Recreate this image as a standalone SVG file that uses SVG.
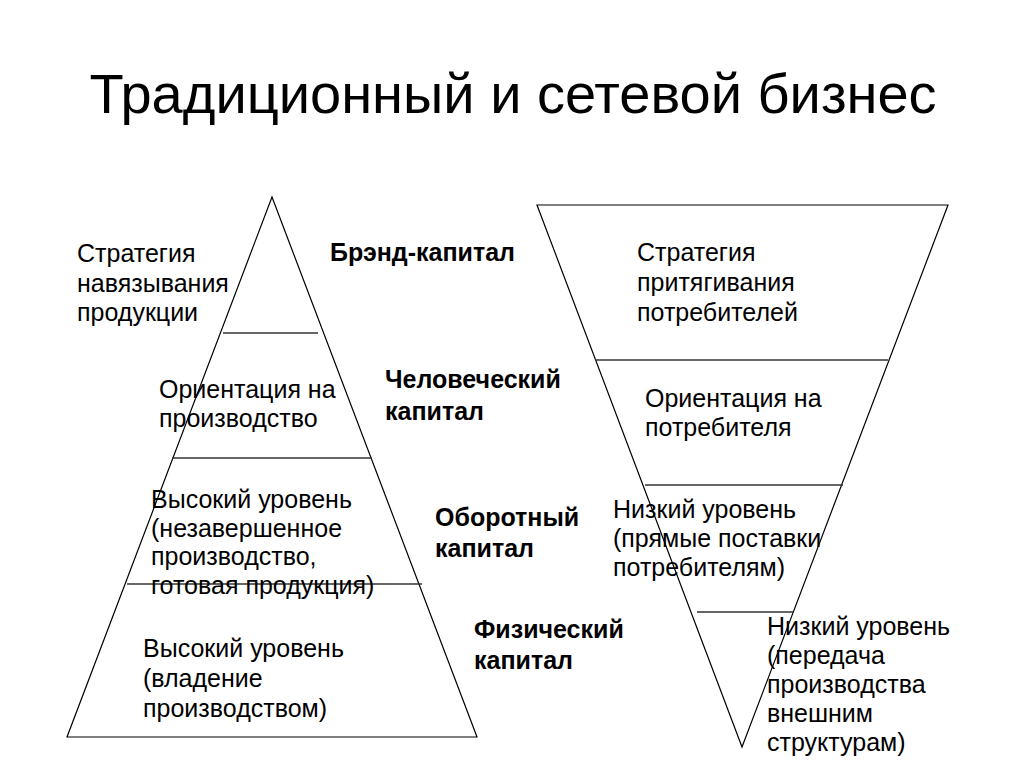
<svg xmlns="http://www.w3.org/2000/svg" width="1024" height="767" viewBox="0 0 1024 767">
<style>
.t{font-family:"Liberation Sans",Arial,sans-serif;font-size:25px;fill:#000}
.b{font-family:"Liberation Sans",Arial,sans-serif;font-size:25px;font-weight:bold;fill:#000}
.h{font-family:"Liberation Sans",Arial,sans-serif;font-size:56px;fill:#000}
.edge{fill:none;stroke:#000;stroke-width:1.2}
.div{stroke:#333;stroke-width:1.6}
</style>
<rect width="1024" height="767" fill="#fff"/>
<g id="title"><text class="h" x="513" y="113" text-anchor="middle">Традиционный и сетевой бизнес</text></g>
<g id="connectors">
<polygon class="edge" points="272,197 67,737 477,737"/>
<line class="div" x1="223" y1="333" x2="318" y2="333"/>
<line class="div" x1="172" y1="458" x2="372" y2="458"/>
<line class="div" x1="127" y1="584" x2="422" y2="584"/>
<polygon class="edge" points="537,205 948,205 742,747"/>
<line class="div" x1="595" y1="360" x2="888" y2="360"/>
<line class="div" x1="645" y1="485" x2="843" y2="485"/>
<line class="div" x1="697" y1="612" x2="793" y2="612"/>
</g>
<g id="left-1"><text class="t" x="77" y="262"><tspan x="77">Стратегия</tspan><tspan x="77" dy="29.5">навязывания</tspan><tspan x="77" dy="29.5">продукции</tspan></text></g>
<g id="left-2"><text class="t" x="159" y="398"><tspan x="159">Ориентация на</tspan><tspan x="159" dy="29">производство</tspan></text></g>
<g id="left-3"><text class="t" x="151" y="508"><tspan x="151">Высокий уровень</tspan><tspan x="151" dy="28.5">(незавершенное</tspan><tspan x="151" dy="28.5">производство,</tspan><tspan x="151" dy="28.5">готовая продукция)</tspan></text></g>
<g id="left-4"><text class="t" x="143" y="657"><tspan x="143">Высокий уровень</tspan><tspan x="143" dy="30">(владение</tspan><tspan x="143" dy="30">производством)</tspan></text></g>
<g id="cap-1"><text class="b" x="330" y="261">Брэнд-капитал</text></g>
<g id="cap-2"><text class="b" x="385" y="388"><tspan x="385">Человеческий</tspan><tspan x="385" dy="32">капитал</tspan></text></g>
<g id="cap-3"><text class="b" x="435" y="526"><tspan x="435">Оборотный</tspan><tspan x="435" dy="31">капитал</tspan></text></g>
<g id="cap-4"><text class="b" x="474" y="638"><tspan x="474">Физический</tspan><tspan x="474" dy="31">капитал</tspan></text></g>
<g id="right-1"><text class="t" x="637" y="261"><tspan x="637">Стратегия</tspan><tspan x="637" dy="30">притягивания</tspan><tspan x="637" dy="30">потребителей</tspan></text></g>
<g id="right-2"><text class="t" x="645" y="407"><tspan x="645">Ориентация на</tspan><tspan x="645" dy="28.5">потребителя</tspan></text></g>
<g id="right-3"><text class="t" x="613" y="518"><tspan x="613">Низкий уровень</tspan><tspan x="613" dy="29">(прямые поставки</tspan><tspan x="613" dy="29">потребителям)</tspan></text></g>
<g id="right-4"><text class="t" x="767" y="635"><tspan x="767">Низкий уровень</tspan><tspan x="767" dy="29">(передача</tspan><tspan x="767" dy="29">производства</tspan><tspan x="767" dy="29">внешним</tspan><tspan x="767" dy="29">структурам)</tspan></text></g>
</svg>
